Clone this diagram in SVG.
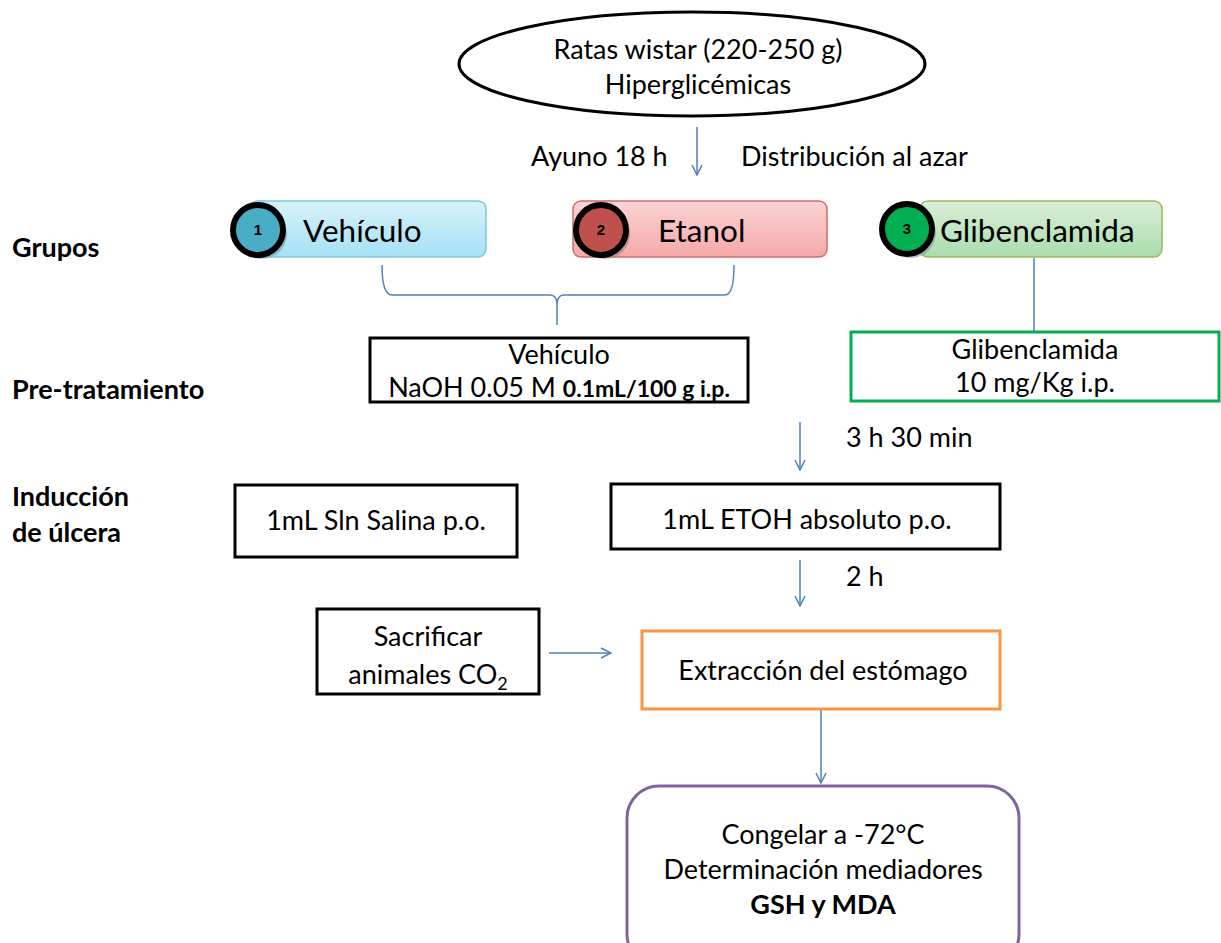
<svg xmlns="http://www.w3.org/2000/svg" width="1221" height="943" viewBox="0 0 1221 943">
<style>
text{font-family:Lato,"Open Sans","Liberation Sans",sans-serif;fill:#000}
.t{font-size:27px}
.c{text-anchor:middle}
.b{font-weight:bold}
.lbl{font-size:27px;font-weight:bold}
.g{font-size:31.5px}
.box{fill:#fff;stroke:#000;stroke-width:3}
.con{fill:none;stroke:#4f81bd;stroke-width:1.5}
.num{font-family:"Liberation Sans",Arial,sans-serif;font-size:15px;font-weight:bold;text-anchor:middle}
.ring{stroke:#000;stroke-width:6}
</style>
<defs>
<marker id="ah" viewBox="0 0 12 12" refX="11" refY="6" markerWidth="12" markerHeight="12" markerUnits="userSpaceOnUse" orient="auto">
<path d="M1,1 L11,6 L1,11" fill="none" stroke="#4f81bd" stroke-width="1.5"/>
</marker>
<linearGradient id="gb" x1="0" y1="0" x2="0" y2="1"><stop offset="0" stop-color="#d8f2fb"/><stop offset="1" stop-color="#a5e1f5"/></linearGradient>
<linearGradient id="gr" x1="0" y1="0" x2="0" y2="1"><stop offset="0" stop-color="#fbd3d3"/><stop offset="1" stop-color="#f6a9a9"/></linearGradient>
<linearGradient id="gg" x1="0" y1="0" x2="0" y2="1"><stop offset="0" stop-color="#daf0d8"/><stop offset="1" stop-color="#aadcac"/></linearGradient>
</defs>

<g id="labels">
<text class="lbl" x="12" y="257">Grupos</text>
<text class="lbl" x="12" y="399">Pre-tratamiento</text>
<text class="lbl" x="12" y="506">Inducción</text>
<text class="lbl" x="12" y="542">de úlcera</text>
</g>

<g id="connectors">
<line class="con" x1="697" y1="127" x2="697" y2="175" marker-end="url(#ah)"/>
<path class="con" d="M382,265 Q382,295 392,295 L550,295 Q557,295 557,305 L557,325 M557,305 Q557,295 564,295 L725,295 Q734,295 734,265"/>
<line class="con" x1="1034" y1="258" x2="1034" y2="332"/>
<line class="con" x1="800" y1="422" x2="800" y2="470" marker-end="url(#ah)"/>
<line class="con" x1="800" y1="560" x2="800" y2="606" marker-end="url(#ah)"/>
<line class="con" x1="549" y1="653" x2="611" y2="653" marker-end="url(#ah)"/>
<line class="con" x1="821" y1="710" x2="821" y2="783" marker-end="url(#ah)"/>
<text class="t" x="531" y="166">Ayuno 18 h</text>
<text class="t" x="741" y="166">Distribución al azar</text>
<text class="t" x="846" y="447">3 h 30 min</text>
<text class="t" x="846" y="586">2 h</text>
</g>

<g id="start">
<ellipse cx="692" cy="64" rx="233" ry="52" fill="#fff" stroke="#000" stroke-width="3"/>
<text class="t c" x="698" y="59">Ratas wistar (220-250 g)</text>
<text class="t c" x="698" y="94">Hiperglicémicas</text>
</g>

<g id="g1">
<rect x="250" y="201" width="236" height="56" rx="8" fill="url(#gb)" stroke="#7fc6e0" stroke-width="1.5"/>
<circle cx="262" cy="234" r="25" fill="#7f9aa3" opacity="0.6"/>
<circle cx="258" cy="230" r="25" fill="#4bacc6" class="ring"/>
<text class="num" x="258" y="235">1</text>
<text class="g" x="303" y="242">Vehículo</text>
</g>

<g id="g2">
<rect x="573" y="201" width="254" height="56" rx="8" fill="url(#gr)" stroke="#d06e6b" stroke-width="1.5"/>
<circle cx="605" cy="234" r="25" fill="#9e7f7f" opacity="0.6"/>
<circle cx="601" cy="230" r="25" fill="#c0504d" class="ring"/>
<text class="num" x="601" y="235">2</text>
<text class="g" x="658" y="242">Etanol</text>
</g>

<g id="g3">
<rect x="920" y="201" width="242" height="56" rx="8" fill="url(#gg)" stroke="#9bbb59" stroke-width="1.5"/>
<circle cx="911" cy="233" r="25" fill="#7f9aa3" opacity="0.6"/>
<circle cx="907" cy="229" r="25" fill="#00b050" class="ring"/>
<text class="num" x="907" y="234">3</text>
<text class="g" x="940" y="242">Glibenclamida</text>
</g>

<g id="pre1">
<rect class="box" x="370" y="338" width="378" height="64"/>
<text class="t c" x="559" y="364">Vehículo</text>
<text class="c" x="559" y="397"><tspan style="font-size:27px">NaOH 0.05 M </tspan><tspan style="font-size:23px;font-weight:bold">0.1mL/100 g i.p.</tspan></text>
</g>

<g id="pre3">
<rect x="851" y="332" width="368" height="69" fill="#fff" stroke="#00b050" stroke-width="3"/>
<text class="t c" x="1035" y="359">Glibenclamida</text>
<text class="t c" x="1035" y="392">10 mg/Kg i.p.</text>
</g>

<g id="salina">
<rect class="box" x="235" y="485" width="282" height="72"/>
<text class="t c" x="376" y="530">1mL Sln Salina p.o.</text>
</g>

<g id="etoh">
<rect class="box" x="611" y="484" width="389" height="65"/>
<text class="t c" x="807" y="529">1mL ETOH absoluto p.o.</text>
</g>

<g id="sacrificar">
<rect class="box" x="317" y="609" width="222" height="85"/>
<text class="t c" x="428" y="646">Sacrificar</text>
<text class="t c" x="428" y="684">animales CO<tspan style="font-size:18px" dy="6">2</tspan></text>
</g>

<g id="extraccion">
<rect x="642" y="631" width="358" height="78" fill="#fff" stroke="#f79646" stroke-width="3"/>
<text class="t c" x="823" y="680">Extracción del estómago</text>
</g>

<g id="final">
<rect x="627" y="786" width="392" height="180" rx="32" fill="#fff" stroke="#8064a2" stroke-width="3"/>
<text class="t c" x="823" y="844">Congelar a -72°C</text>
<text class="t c" x="823" y="879">Determinación mediadores</text>
<text class="t c b" x="823" y="914">GSH y MDA</text>
</g>
</svg>
